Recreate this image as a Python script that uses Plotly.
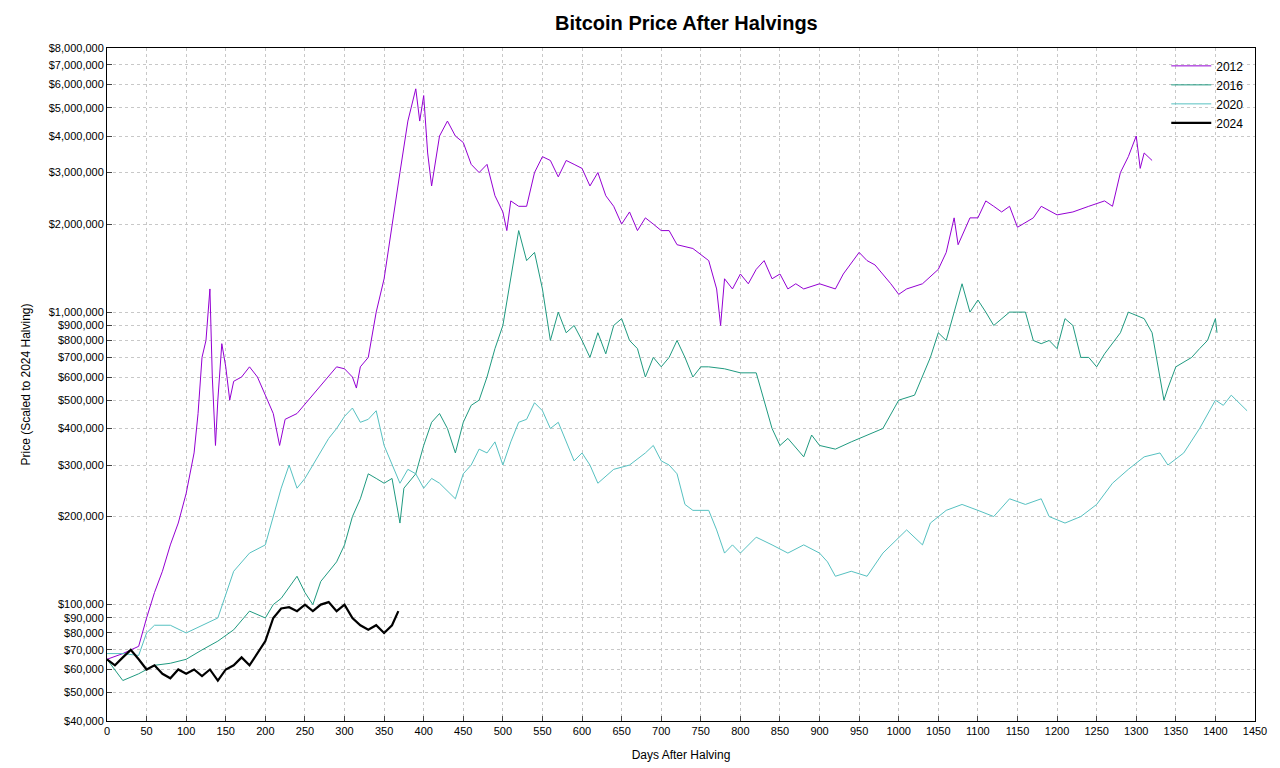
import plotly.graph_objects as go

d2012 = [0,20,40,50,60,70,80,90,100,110,115,120,125,130,133,137,140,145,150,155,160,170,180,190,200,210,218,225,240,260,280,290,300,310,315,320,330,340,350,360,370,380,390,395,400,405,410,420,430,440,450,460,470,480,490,500,505,510,520,530,540,550,560,570,580,590,600,610,620,630,640,650,660,670,680,690,700,710,720,740,760,770,775,780,790,800,810,820,830,840,850,860,870,880,900,920,930,950,960,970,990,1000,1010,1030,1050,1060,1070,1075,1090,1100,1110,1120,1130,1140,1150,1170,1180,1200,1220,1240,1260,1270,1280,1290,1300,1305,1310,1320]
v2012 = [65e3,68e3,72e3,90e3,110e3,130e3,160e3,190e3,240e3,330e3,450e3,700e3,800e3,1.2e6,600e3,350e3,500e3,780e3,650e3,500e3,580e3,600e3,650e3,600e3,520e3,450e3,350e3,430e3,450e3,520e3,600e3,650e3,640e3,600e3,550e3,650e3,700e3,1e6,1.3e6,2e6,3e6,4.5e6,5.8e6,4.5e6,5.5e6,3.5e6,2.7e6,4e6,4.5e6,4e6,3.8e6,3.2e6,3e6,3.2e6,2.5e6,2.2e6,1.9e6,2.4e6,2.3e6,2.3e6,3e6,3.4e6,3.3e6,2.9e6,3.3e6,3.2e6,3.1e6,2.7e6,3e6,2.5e6,2.3e6,2e6,2.2e6,1.9e6,2.1e6,2e6,1.9e6,1.9e6,1.7e6,1.65e6,1.5e6,1.2e6,0.9e6,1.3e6,1.2e6,1.35e6,1.25e6,1.4e6,1.5e6,1.3e6,1.35e6,1.2e6,1.25e6,1.2e6,1.25e6,1.2e6,1.35e6,1.6e6,1.5e6,1.45e6,1.25e6,1.15e6,1.2e6,1.25e6,1.4e6,1.6e6,2.1e6,1.7e6,2.1e6,2.1e6,2.4e6,2.3e6,2.2e6,2.3e6,1.95e6,2.1e6,2.3e6,2.15e6,2.2e6,2.3e6,2.4e6,2.3e6,3e6,3.4e6,4e6,3.1e6,3.5e6,3.3e6]

d2016 = [0,20,40,60,80,100,120,140,160,180,200,210,220,230,240,250,260,270,280,290,300,310,320,330,340,350,360,370,375,390,400,410,420,430,440,450,460,470,480,490,500,510,520,530,540,550,560,570,580,590,600,610,620,630,640,650,660,670,680,690,700,710,720,730,740,750,760,780,800,820,830,840,850,860,880,890,900,920,940,960,980,1000,1020,1040,1050,1060,1070,1080,1090,1100,1110,1120,1140,1160,1170,1180,1190,1200,1210,1220,1230,1240,1250,1260,1280,1290,1310,1320,1335,1340,1350,1370,1380,1390,1400,1402]
v2016 = [65e3,55e3,58e3,62e3,63e3,65e3,70e3,75e3,82e3,95e3,90e3,100e3,105e3,115e3,125e3,110e3,100e3,120e3,130e3,140e3,160e3,200e3,230e3,280e3,270e3,260e3,270e3,190e3,250e3,280e3,350e3,420e3,450e3,400e3,330e3,420e3,480e3,500e3,600e3,750e3,900e3,1.3e6,1.9e6,1.5e6,1.6e6,1.2e6,800e3,1e6,850e3,900e3,800e3,700e3,850e3,720e3,900e3,950e3,800e3,750e3,600e3,700e3,650e3,700e3,800e3,700e3,600e3,650e3,650e3,640e3,620e3,620e3,500e3,400e3,350e3,370e3,320e3,380e3,350e3,340e3,360e3,380e3,400e3,500e3,520e3,700e3,850e3,800e3,1e6,1.25e6,1e6,1.1e6,1e6,900e3,1e6,1e6,800e3,780e3,800e3,750e3,950e3,900e3,700e3,700e3,650e3,720e3,850e3,1e6,950e3,850e3,500e3,550e3,650e3,700e3,750e3,800e3,950e3,850e3]

d2020 = [0,20,40,50,60,80,100,120,140,160,180,200,210,220,230,240,250,260,270,280,290,300,310,320,330,340,350,360,370,380,390,400,410,420,440,450,460,470,480,490,500,510,520,530,540,550,560,570,580,590,600,610,620,640,660,680,690,700,710,720,730,740,760,770,780,790,800,820,840,860,880,900,910,920,940,960,980,1000,1010,1030,1040,1060,1080,1100,1120,1140,1160,1180,1190,1210,1230,1250,1260,1270,1290,1310,1330,1340,1360,1380,1400,1410,1420,1440]
v2020 = [68e3,68e3,67e3,80e3,85e3,85e3,80e3,85e3,90e3,130e3,150e3,160e3,200e3,250e3,300e3,250e3,270e3,300e3,330e3,370e3,400e3,440e3,470e3,420e3,430e3,460e3,350e3,300e3,260e3,290e3,280e3,250e3,270e3,260e3,230e3,280e3,300e3,340e3,330e3,360e3,300e3,360e3,420e3,430e3,490e3,460e3,400e3,420e3,360e3,310e3,330e3,300e3,260e3,290e3,300e3,330e3,350e3,310e3,300e3,280e3,220e3,210e3,210e3,180e3,150e3,160e3,150e3,170e3,160e3,150e3,160e3,150e3,140e3,125e3,130e3,125e3,150e3,170e3,180e3,160e3,190e3,210e3,220e3,210e3,200e3,230e3,220e3,230e3,200e3,190e3,200e3,220e3,240e3,260e3,290e3,320e3,330e3,300e3,330e3,400e3,500e3,480e3,520e3,460e3]

d2024 = [0,10,20,30,40,50,60,70,80,90,100,110,120,130,140,150,160,170,180,190,200,210,220,230,240,250,260,270,280,290,300,310,320,330,340,350,360,368]
v2024 = [65e3,62e3,66e3,70e3,65e3,60e3,62e3,58e3,56e3,60e3,58e3,60e3,57e3,60e3,55e3,60e3,62e3,66e3,62e3,68e3,75e3,90e3,97e3,98e3,95e3,100e3,95e3,100e3,102e3,95e3,100e3,90e3,85e3,82e3,85e3,80e3,85e3,95e3]

ytickvals = [4e4,5e4,6e4,7e4,8e4,9e4,1e5,2e5,3e5,4e5,5e5,6e5,7e5,8e5,9e5,1e6,2e6,3e6,4e6,5e6,6e6,7e6,8e6]
yticktext = ["$" + format(int(v), ",") for v in ytickvals]
xtickvals = list(range(0, 1451, 50))

series = [("2012", d2012, v2012, "#9400d3", 1),
          ("2016", d2016, v2016, "#1f9a80", 1),
          ("2020", d2020, v2020, "#56c1c1", 1),
          ("2024", d2024, v2024, "#000000", 2.2)]

fig = go.Figure()
for name, x, y, c, w in series:
    fig.add_trace(go.Scatter(x=x, y=y, name=name, mode="lines", line=dict(color=c, width=w)))

grid = dict(showgrid=True, gridcolor="#c8c8c8", griddash="dot", gridwidth=1,
            showline=True, linecolor="black", mirror=True, ticks="inside",
            tickfont=dict(size=11, color="black"), zeroline=False)
fig.update_layout(
    width=1280, height=768, paper_bgcolor="white", plot_bgcolor="white",
    font=dict(family="Liberation Sans, Arial", color="black"),
    title=dict(text="<b>Bitcoin Price After Halvings</b>", x=0.53, y=0.99, yanchor="top", xanchor="center", font=dict(size=20)),
    margin=dict(l=99, r=33, t=40, b=55),
    xaxis=dict(range=[0, 1450], tickvals=xtickvals, title=dict(text="Days After Halving", font=dict(size=12), standoff=14), **grid),
    yaxis=dict(type="log", range=[4.602, 6.903], tickvals=ytickvals, ticktext=yticktext,
               title=dict(text="Price (Scaled to 2024 Halving)", font=dict(size=12)), **grid),
    legend=dict(x=0.995, y=0.995, xanchor="right", yanchor="top", bgcolor="rgba(255,255,255,0)",
                font=dict(size=12), tracegroupgap=0, itemwidth=40),
    showlegend=True,
)
fig.write_html("out.html")
